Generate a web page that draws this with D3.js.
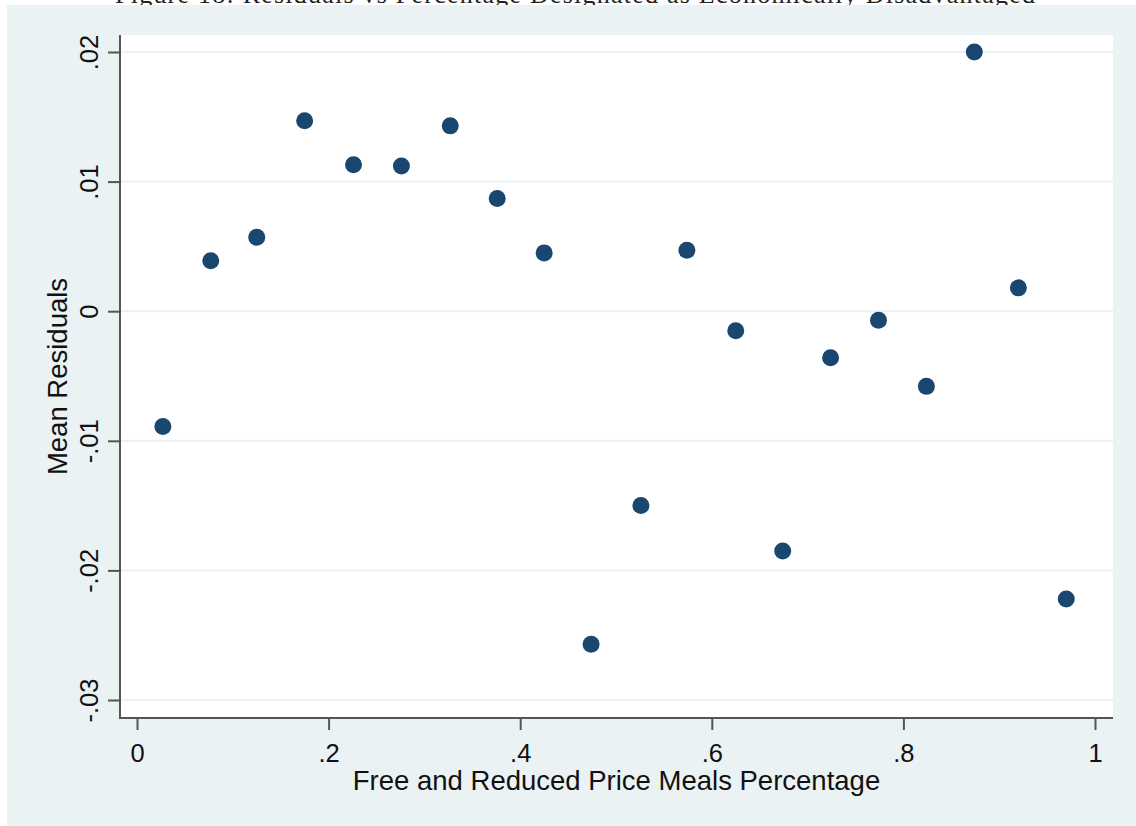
<!DOCTYPE html>
<html>
<head>
<meta charset="utf-8">
<script src="https://cdn.jsdelivr.net/npm/d3@7"></script>
<style>
    body { margin: 0; background: #ffffff; }
    svg { display: block; }
</style>
</head>
<body>
<svg id="chart" width="1136" height="826"></svg>
<script>
// values (bin midpoints and mean residuals)
var mealsPct = [0.027, 0.077, 0.125, 0.175, 0.226, 0.276, 0.327, 0.376, 0.425, 0.474,
                0.526, 0.574, 0.625, 0.674, 0.724, 0.774, 0.824, 0.874, 0.920, 0.970];
var meanResid = [-0.0089, 0.0039, 0.0057, 0.0147, 0.0113, 0.0112, 0.0143, 0.0087, 0.0045, -0.0257,
                 -0.0150, 0.0047, -0.0015, -0.0185, -0.0036, -0.0007, -0.0058, 0.0200, 0.0018, -0.0222];
var xTicks = [0, 0.2, 0.4, 0.6, 0.8, 1];
var xTickLabels = ["0", ".2", ".4", ".6", ".8", "1"];
var yTicks = [-0.03, -0.02, -0.01, 0, 0.01, 0.02];
var yTickLabels = ["-.03", "-.02", "-.01", "0", ".01", ".02"];

var figTitle = "Figure 18: Residuals vs Percentage Designated as Economically Disadvantaged";
var xTitle = "Free and Reduced Price Meals Percentage";
var yTitle = "Mean Residuals";

(function () {
    var svg = d3.select("#chart");
    var font = "'Liberation Sans', Arial, sans-serif";

    // plot region
    var left = 120, right = 1113, top = 35, bottom = 718;

    var x = d3.scaleLinear().domain([0, 1]).range([137, 1095]);
    var y = d3.scaleLinear().domain([-0.03, 0.02]).range([700, 52]);

    // caption of the page above, cut off by the crop
    svg.append("text")
        .attr("x", 575)
        .attr("y", 3)
        .attr("text-anchor", "middle")
        .attr("font-family", "'Liberation Serif', 'DejaVu Serif', serif")
        .attr("font-size", 26)
        .attr("textLength", 920)
        .attr("fill", "#222")
        .text(figTitle);

    // outer graph region
    svg.append("rect")
        .attr("x", 7).attr("y", 5)
        .attr("width", 1129).attr("height", 821)
        .attr("fill", "#eaf2f3");

    svg.append("rect")
        .attr("x", left).attr("y", top)
        .attr("width", right - left).attr("height", bottom - top)
        .attr("fill", "#ffffff");

    // horizontal grid
    svg.append("g")
        .selectAll("line")
        .data(yTicks)
        .enter().append("line")
        .attr("x1", left).attr("x2", right)
        .attr("y1", function (d) { return y(d); })
        .attr("y2", function (d) { return y(d); })
        .attr("stroke", "#eaf2f3")
        .attr("stroke-width", 2);

    // y axis
    var yAxis = d3.axisLeft(y)
        .tickValues(yTicks)
        .tickFormat(function (d, i) { return yTickLabels[i]; })
        .tickSizeInner(12)
        .tickSizeOuter(0)
        .tickPadding(8);

    var gy = svg.append("g")
        .attr("transform", "translate(" + left + ",0)")
        .call(yAxis);
    gy.select(".domain").remove();
    gy.selectAll(".tick line").attr("stroke", "#555").attr("stroke-width", 2);
    gy.selectAll(".tick text")
        .attr("font-family", font)
        .attr("font-size", 25.5)
        .attr("fill", "#111")
        .attr("text-anchor", "middle")
        .attr("x", null)
        .attr("dy", null)
        .attr("transform", "translate(-22,0) rotate(-90)");

    // x axis
    var xAxis = d3.axisBottom(x)
        .tickValues(xTicks)
        .tickFormat(function (d, i) { return xTickLabels[i]; })
        .tickSizeInner(12)
        .tickSizeOuter(0)
        .tickPadding(8);

    var gx = svg.append("g")
        .attr("transform", "translate(0," + bottom + ")")
        .call(xAxis);
    gx.select(".domain").remove();
    gx.selectAll(".tick line").attr("stroke", "#555").attr("stroke-width", 2);
    gx.selectAll(".tick text")
        .attr("font-family", font)
        .attr("font-size", 25.5)
        .attr("fill", "#111")
        .attr("dy", null)
        .attr("y", 44);

    // axis lines
    svg.append("line")
        .attr("x1", left).attr("x2", left)
        .attr("y1", top).attr("y2", bottom + 1)
        .attr("stroke", "#555").attr("stroke-width", 2);
    svg.append("line")
        .attr("x1", left - 1).attr("x2", right)
        .attr("y1", bottom).attr("y2", bottom)
        .attr("stroke", "#555").attr("stroke-width", 2);

    // titles
    svg.append("text")
        .attr("x", (left + right) / 2)
        .attr("y", 790)
        .attr("text-anchor", "middle")
        .attr("font-family", font)
        .attr("font-size", 27.5)
        .attr("fill", "#111")
        .text(xTitle);

    svg.append("text")
        .attr("transform", "translate(67," + ((top + bottom) / 2) + ") rotate(-90)")
        .attr("text-anchor", "middle")
        .attr("font-family", font)
        .attr("font-size", 27.5)
        .attr("fill", "#111")
        .text(yTitle);

    // points
    svg.append("g")
        .selectAll("circle")
        .data(mealsPct)
        .enter().append("circle")
        .attr("cx", function (d) { return x(d); })
        .attr("cy", function (d, i) { return y(meanResid[i]); })
        .attr("r", 8.5)
        .attr("fill", "#1a476f");
})();
</script>
</body>
</html>
